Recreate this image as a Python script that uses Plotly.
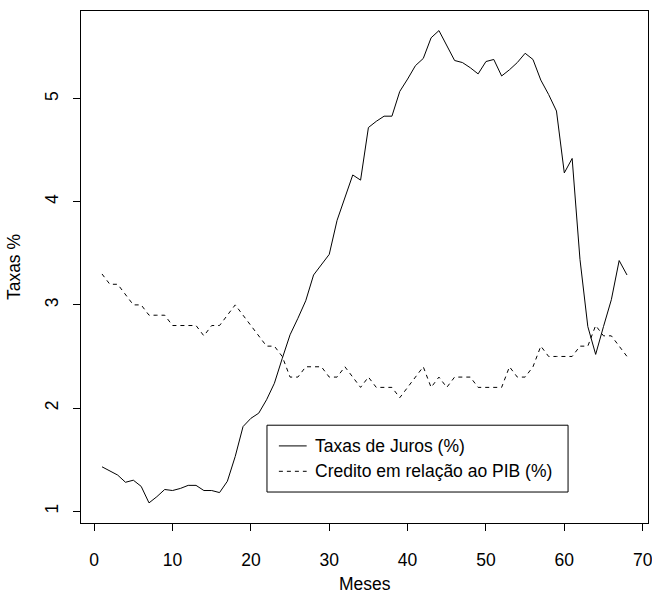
import plotly.graph_objects as go

# Monthly series (months 1..68)
meses = list(range(1, 69))

taxas_juros = [
    1.43, 1.39, 1.35, 1.28, 1.30, 1.24, 1.08, 1.14, 1.21, 1.20,
    1.22, 1.25, 1.25, 1.20, 1.20, 1.18, 1.29, 1.53, 1.82, 1.90,
    1.95, 2.08, 2.24, 2.48, 2.71, 2.87, 3.04, 3.29, 3.39, 3.49,
    3.82, 4.05, 4.26, 4.21, 4.72, 4.78, 4.83, 4.83, 5.07, 5.19,
    5.32, 5.39, 5.59, 5.66, 5.51, 5.37, 5.35, 5.30, 5.24, 5.36,
    5.38, 5.22, 5.28, 5.35, 5.44, 5.38, 5.18, 5.04, 4.88, 4.28,
    4.42, 3.44, 2.79, 2.52, 2.79, 3.05, 3.43, 3.29,
]

credito_pib = [
    3.3, 3.2, 3.2, 3.1, 3.0, 3.0, 2.9, 2.9, 2.9, 2.8,
    2.8, 2.8, 2.8, 2.7, 2.8, 2.8, 2.9, 3.0, 2.9, 2.8,
    2.7, 2.6, 2.6, 2.5, 2.3, 2.3, 2.4, 2.4, 2.4, 2.3,
    2.3, 2.4, 2.3, 2.2, 2.3, 2.2, 2.2, 2.2, 2.1, 2.2,
    2.3, 2.4, 2.2, 2.3, 2.2, 2.3, 2.3, 2.3, 2.2, 2.2,
    2.2, 2.2, 2.4, 2.3, 2.3, 2.4, 2.6, 2.5, 2.5, 2.5,
    2.5, 2.6, 2.6, 2.8, 2.7, 2.7, 2.6, 2.5,
]

x_ticks = [0, 10, 20, 30, 40, 50, 60, 70]
y_ticks = [1, 2, 3, 4, 5]

legend_labels = ["Taxas de Juros (%)", "Credito em relação ao PIB (%)"]

FONT = "Liberation Sans, Arial, Helvetica, sans-serif"
FS = 17.5

fig = go.Figure()
fig.add_trace(go.Scatter(
    x=meses, y=taxas_juros, mode="lines", name=legend_labels[0],
    line=dict(color="black", width=1), showlegend=False,
))
fig.add_trace(go.Scatter(
    x=meses, y=credito_pib, mode="lines", name=legend_labels[1],
    line=dict(color="black", width=1, dash="4px,4px"), showlegend=False,
))

# Legend box drawn in plot-area (paper) coordinates
lx0, lx1 = 0.328, 0.859
ly0, ly1 = 0.0605, 0.191
fig.add_shape(type="rect", xref="paper", yref="paper",
              x0=lx0, x1=lx1, y0=ly0, y1=ly1,
              line=dict(color="black", width=1), fillcolor="white", layer="above")
row_y = [ly1 - (ly1 - ly0) * 0.31, ly1 - (ly1 - ly0) * 0.69]
dashes = ["solid", "4px,4px"]
for ry, lab, d in zip(row_y, legend_labels, dashes):
    fig.add_shape(type="line", xref="paper", yref="paper",
                  x0=lx0 + 0.021, x1=lx0 + 0.070, y0=ry, y1=ry,
                  line=dict(color="black", width=1, dash=d), layer="above")
    fig.add_annotation(xref="paper", yref="paper", x=lx0 + 0.081, y=ry,
                       text=lab, showarrow=False, xanchor="left", yanchor="middle",
                       font=dict(family=FONT, size=FS, color="black"))

# Axis titles
fig.add_annotation(xref="paper", yref="paper", x=0.5, y=-0.12,
                   text="Meses", showarrow=False, xanchor="center", yanchor="middle",
                   font=dict(family=FONT, size=FS, color="black"))
fig.add_annotation(xref="paper", yref="paper", x=-0.118, y=0.5,
                   text="Taxas %", showarrow=False, textangle=-90,
                   xanchor="center", yanchor="middle",
                   font=dict(family=FONT, size=FS, color="black"))

axis_common = dict(
    showline=True, mirror=True, linecolor="black", linewidth=1,
    ticks="outside", ticklen=7, tickcolor="black", tickwidth=1,
    showgrid=False, zeroline=False, automargin=False,
    ticklabeloverflow="allow",
    tickfont=dict(family=FONT, size=FS, color="black"),
)

fig.update_layout(
    width=652, height=597,
    margin=dict(l=81, r=4, t=11, b=74),
    paper_bgcolor="white", plot_bgcolor="white",
    font=dict(family=FONT, size=FS, color="black"),
    xaxis=dict(
        range=[-1.68, 70.68], tickvals=x_ticks, ticktext=[str(v) for v in x_ticks],
        ticklabelstandoff=14,
        **axis_common,
    ),
    yaxis=dict(
        range=[0.885, 5.85], tickvals=y_ticks, ticktext=[str(v) for v in y_ticks],
        tickangle=-90, ticklabelstandoff=8,
        **axis_common,
    ),
)

fig.write_html("out.html")
